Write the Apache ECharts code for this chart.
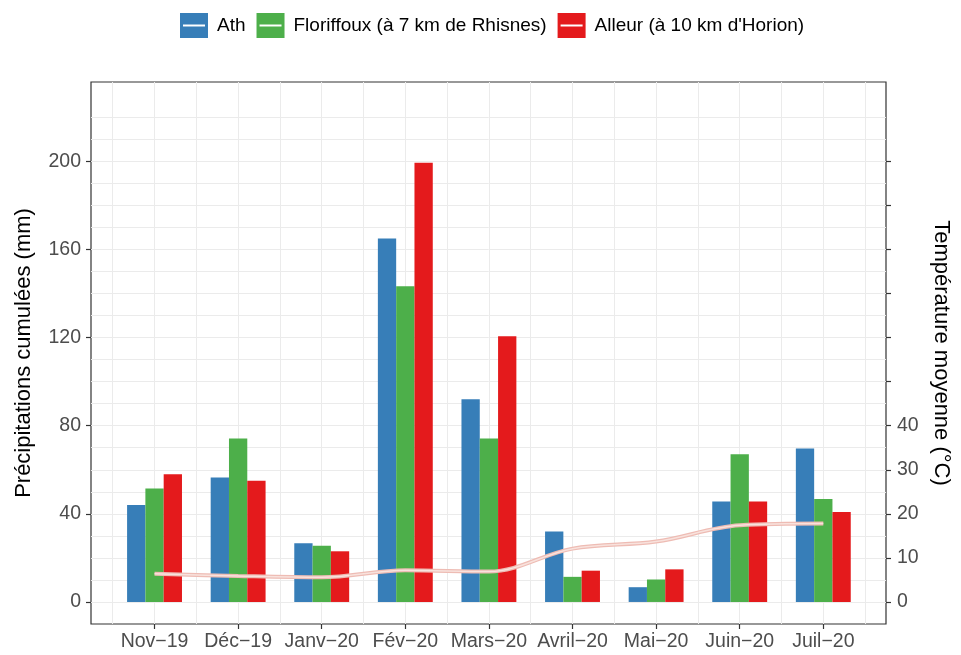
<!DOCTYPE html>
<html>
<head>
<meta charset="utf-8">
<script src="https://cdn.jsdelivr.net/npm/echarts@6/dist/echarts.min.js"></script>
<style>
  html, body { margin: 0; padding: 0; background: #ffffff; }
  #chart { width: 961px; height: 655px; }
</style>
</head>
<body>
<div id="chart"></div>
<script>
// Monthly cumulative rainfall (mm) at three stations, plus mean temperature (°C)
const months = ['Nov\u221219', 'Déc\u221219', 'Janv\u221220', 'Fév\u221220', 'Mars\u221220',
                'Avril\u221220', 'Mai\u221220', 'Juin\u221220', 'Juil\u221220'];
const stations = ['Ath', 'Floriffoux (à 7 km de Rhisnes)', "Alleur (à 10 km d'Horion)"];
const rainAth        = [44, 56.5, 26.7, 165, 92, 32, 6.7, 45.6, 69.7];
const rainFloriffoux = [51.5, 74.2, 25.5, 143.3, 74.2, 11.4, 10.2, 67.1, 46.7];
const rainAlleur     = [58, 55, 23, 199.3, 120.6, 14.2, 14.8, 45.6, 40.8];
const temperature    = [6.4, 5.9, 5.6, 7.2, 6.9, 12.1, 13.7, 17.4, 17.8];
const rainTicks = [0, 40, 80, 120, 160, 200];
const tempTicks = [0, 10, 20, 30, 40, 50, 60, 70, 80, 90, 100];
const tempLabels = [0, 10, 20, 30, 40];

const stationColors = ['#377eb8', '#4daf4a', '#e41a1c'];
const FONT = 'Liberation Sans, Arial, Helvetica, sans-serif';

const pairs = arr => arr.map((v, i) => [i, v]);
const range = (a, b, s) => { const r = []; for (let v = a; v <= b + 1e-9; v += s) r.push(+v.toFixed(3)); return r; };

const chart = echarts.init(document.getElementById('chart'), null, { renderer: 'canvas' });

const barSeries = [rainAth, rainFloriffoux, rainAlleur].map((vals, k) => ({
  name: stations[k],
  type: 'bar',
  xAxisIndex: 0,
  yAxisIndex: 0,
  barWidth: 18.3,
  barGap: '0%',
  itemStyle: { color: stationColors[k] },
  data: pairs(vals),
  z: 3
}));

const xMin = -0.76, xMax = 8.75;
const yMin = -10, yMax = 236;
const tickStyle = { color: '#333333', width: 1.2 };

chart.setOption({
  animation: false,
  backgroundColor: '#ffffff',
  textStyle: { fontFamily: FONT },
  legend: {
    top: 8,
    left: 175,
    itemWidth: 28,
    itemHeight: 25,
    itemGap: 11,
    // filled key with a thin light stroke through the middle (line layer)
    icon: 'path://M0,0H28V25H0Z M3,11.5V13.5H25V11.5Z',
    textStyle: { fontFamily: FONT, fontSize: 19, color: '#000000', padding: [0, 0, 0, 4] },
    data: stations
  },
  grid: {
    left: 91, right: 75, top: 82, bottom: 31,
    show: true, borderColor: '#333333', borderWidth: 1.2, backgroundColor: 'transparent'
  },
  xAxis: [
    {
      type: 'value', min: xMin, max: xMax, position: 'bottom',
      axisLine: { show: false, onZero: false },
      axisTick: { show: true, customValues: range(0, 8, 1), length: 5, lineStyle: tickStyle },
      axisLabel: {
        customValues: range(0, 8, 1), margin: 8,
        formatter: v => months[Math.round(v)] || '',
        color: '#4d4d4d', fontSize: 19.5, fontFamily: FONT
      },
      splitLine: { show: false }
    },
    {
      // vertical grid lines at each month and halfway between
      type: 'value', min: xMin, max: xMax, position: 'bottom',
      axisLine: { show: false, onZero: false },
      axisTick: { show: false, customValues: range(-0.5, 8.5, 0.5) },
      axisLabel: { show: false },
      splitLine: { show: true, lineStyle: { color: '#ebebeb', width: 1 } }
    }
  ],
  yAxis: [
    {
      type: 'value', min: yMin, max: yMax, position: 'left',
      name: 'Précipitations cumulées (mm)', nameLocation: 'middle', nameRotate: 90, nameGap: 56,
      nameTextStyle: { color: '#000000', fontSize: 22, fontFamily: FONT },
      axisLine: { show: false, onZero: false },
      axisTick: { show: true, customValues: rainTicks, length: 5, lineStyle: tickStyle },
      axisLabel: { customValues: rainTicks, color: '#4d4d4d', fontSize: 19.5, fontFamily: FONT, margin: 10 },
      splitLine: { show: false }
    },
    {
      type: 'value', min: yMin / 2, max: yMax / 2, position: 'right',
      name: 'Température moyenne (°C)', nameLocation: 'middle', nameRotate: -90, nameGap: 40,
      nameTextStyle: { color: '#000000', fontSize: 22, fontFamily: FONT },
      axisLine: { show: false, onZero: false },
      axisTick: { show: true, customValues: tempTicks, length: 5, lineStyle: tickStyle },
      axisLabel: { customValues: tempLabels, color: '#4d4d4d', fontSize: 19.5, fontFamily: FONT, margin: 11 },
      splitLine: { show: false }
    },
    {
      // horizontal grid lines every 10 mm
      type: 'value', min: yMin, max: yMax, position: 'left',
      axisLine: { show: false, onZero: false },
      axisTick: { show: false, customValues: range(0, 220, 10) },
      axisLabel: { show: false },
      splitLine: { show: true, lineStyle: { color: '#ebebeb', width: 1 } }
    }
  ],
  series: barSeries.concat([
    {
      name: 'temp-outer', type: 'line', xAxisIndex: 0, yAxisIndex: 1,
      data: pairs(temperature), smooth: 0.35, showSymbol: false, symbol: 'none',
      lineStyle: { color: '#eebcb4', width: 4 }, z: 5
    },
    {
      name: 'temp-inner', type: 'line', xAxisIndex: 0, yAxisIndex: 1,
      data: pairs(temperature), smooth: 0.35, showSymbol: false, symbol: 'none',
      lineStyle: { color: '#f8e2dd', width: 1.5 }, z: 6
    }
  ])
});
</script>
</body>
</html>
